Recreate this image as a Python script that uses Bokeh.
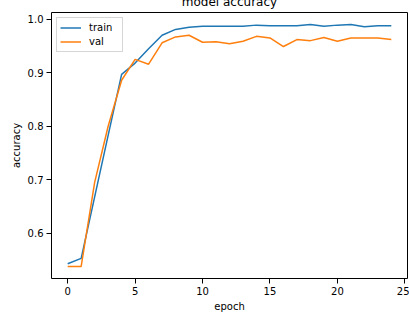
from bokeh.plotting import figure
from bokeh.models import Range1d, FixedTicker, PrintfTickFormatter, Legend, LegendItem
from bokeh.embed import file_html
from bokeh.resources import INLINE

epochs = list(range(25))
train_acc = [0.543, 0.553, 0.668, 0.783, 0.897, 0.918, 0.945, 0.970, 0.981, 0.985,
             0.987, 0.987, 0.987, 0.987, 0.989, 0.988, 0.988, 0.988, 0.990, 0.987,
             0.989, 0.990, 0.986, 0.988, 0.988]
val_acc = [0.538, 0.538, 0.695, 0.800, 0.886, 0.925, 0.916, 0.956, 0.967, 0.970,
           0.957, 0.958, 0.954, 0.959, 0.968, 0.965, 0.949, 0.962, 0.960, 0.966,
           0.959, 0.965, 0.965, 0.965, 0.962]
x_ticks = [0, 5, 10, 15, 20, 25]
y_ticks = [0.6, 0.7, 0.8, 0.9, 1.0]

FONT = "DejaVu Sans"

xmin, xmax = min(epochs), max(epochs)
xm = (xmax - xmin) * 0.05
allv = train_acc + val_acc
ymin, ymax = min(allv), max(allv)
ym = (ymax - ymin) * 0.05

p = figure(frame_width=356, frame_height=266, output_backend="svg", toolbar_location=None,
           x_range=Range1d(xmin - xm, xmax + xm), y_range=Range1d(ymin - ym, ymax + ym),
           title="model accuracy", min_border_left=43, min_border_right=2,
           min_border_bottom=42, min_border_top=0)
p.margin = (-12, -7, 0, 7)
p.title.align = "center"
p.title.text_font = FONT
p.title.text_font_size = "12px"
p.title.text_font_style = "normal"
p.title.text_color = "#000000"
p.title.standoff = 8

p.xgrid.visible = False
p.ygrid.visible = False
p.outline_line_color = "#000000"
p.outline_line_width = 1
p.background_fill_color = "white"
p.border_fill_color = "white"

for ax in (p.xaxis[0], p.yaxis[0]):
    ax.axis_line_color = None
    ax.major_tick_in = 0
    ax.major_tick_out = 5
    ax.minor_tick_line_color = None
    ax.major_tick_line_color = "#000000"
    ax.major_label_text_font = FONT
    ax.major_label_text_font_size = "10px"
    ax.major_label_text_color = "#000000"
    ax.axis_label_text_font = FONT
    ax.axis_label_text_font_size = "10px"
    ax.axis_label_text_font_style = "normal"
    ax.axis_label_text_color = "#000000"
    ax.major_label_standoff = 3
    ax.axis_label_standoff = 3

p.xaxis.ticker = FixedTicker(ticks=x_ticks)
p.yaxis.ticker = FixedTicker(ticks=y_ticks)
p.yaxis.formatter = PrintfTickFormatter(format="%.1f")
p.xaxis.axis_label = "epoch"
p.yaxis.axis_label = "accuracy"

r1 = p.line(epochs, train_acc, line_color="#1f77b4", line_width=1.5)
r2 = p.line(epochs, val_acc, line_color="#ff7f0e", line_width=1.5)

legend = Legend(items=[LegendItem(label="train", renderers=[r1]),
                       LegendItem(label="val", renderers=[r2])],
                location="top_left")
legend.label_text_font = FONT
legend.label_text_font_size = "10px"
legend.label_text_color = "#000000"
legend.border_line_color = "#cccccc"
legend.border_line_alpha = 0.8
legend.background_fill_alpha = 0.8
legend.margin = 5
legend.padding = 3
legend.spacing = 1
legend.glyph_width = 21
legend.glyph_height = 13
legend.label_standoff = 8
legend.label_height = 13
legend.label_width = 30
p.add_layout(legend)

open("out.html", "w").write(file_html(p, INLINE))
